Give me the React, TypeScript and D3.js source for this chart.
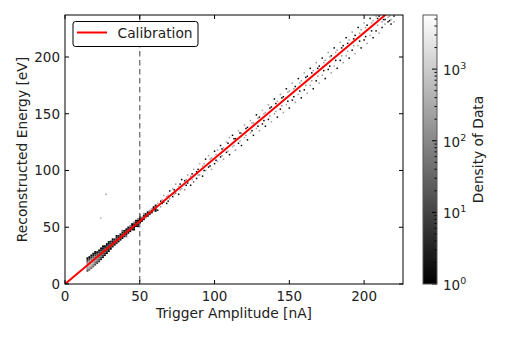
import React from 'react';
import * as d3 from 'd3';

// [trigger amplitude nA, reconstructed energy eV, count]
const clusterBins: [number, number, number][] = [
  [15.0, 11.5, 20], [15.0, 13.1, 80], [15.0, 14.7, 250], [15.0, 16.3, 400], [15.0, 17.9, 150], [15.0, 19.5, 30], [15.0, 21.1, 4], [15.0, 22.7, 1],
  [16.3, 12.5, 30], [16.3, 14.1, 150], [16.3, 15.7, 450], [16.3, 17.3, 600], [16.3, 18.9, 250], [16.3, 20.5, 50], [16.3, 22.1, 6], [16.3, 23.7, 1],
  [17.6, 14.0, 30], [17.6, 15.6, 120], [17.6, 17.2, 350], [17.6, 18.8, 500], [17.6, 20.4, 200], [17.6, 22.0, 40], [17.6, 23.6, 5], [17.6, 25.2, 1],
  [18.9, 15.5, 20], [18.9, 17.1, 80], [18.9, 18.7, 250], [18.9, 20.3, 300], [18.9, 21.9, 120], [18.9, 23.5, 25], [18.9, 25.1, 3], [18.9, 26.7, 1],
  [20.2, 17.0, 12], [20.2, 18.6, 50], [20.2, 20.2, 150], [20.2, 21.8, 200], [20.2, 23.4, 80], [20.2, 25.0, 15], [20.2, 26.6, 2], [20.2, 28.2, 1],
  [21.5, 18.5, 8], [21.5, 20.1, 30], [21.5, 21.7, 80], [21.5, 23.3, 120], [21.5, 24.9, 50], [21.5, 26.5, 10], [21.5, 28.1, 2],
  [22.8, 20.0, 5], [22.8, 21.6, 15], [22.8, 23.2, 50], [22.8, 24.8, 70], [22.8, 26.4, 30], [22.8, 28.0, 6], [22.8, 29.6, 1],
  [24.1, 21.8, 3], [24.1, 23.4, 10], [24.1, 25.0, 30], [24.1, 26.6, 40], [24.1, 28.2, 18], [24.1, 29.8, 4], [24.1, 31.4, 1],
  [25.4, 23.6, 2], [25.4, 25.2, 6], [25.4, 26.8, 18], [25.4, 28.4, 25], [25.4, 30.0, 10], [25.4, 31.6, 3], [25.4, 33.2, 1],
  [26.7, 25.4, 2], [26.7, 27.0, 5], [26.7, 28.6, 12], [26.7, 30.2, 15], [26.7, 31.8, 6], [26.7, 33.4, 2],
  [28.0, 27.2, 1], [28.0, 28.8, 4], [28.0, 30.4, 9], [28.0, 32.0, 10], [28.0, 33.6, 4], [28.0, 35.2, 1],
  [29.3, 29.0, 1], [29.3, 30.6, 3], [29.3, 32.2, 7], [29.3, 33.8, 8], [29.3, 35.4, 3], [29.3, 37.0, 1],
];

const bandBins: [number, number, number][] = [
  [30.6, 31.0, 1], [30.6, 32.6, 4], [30.6, 34.2, 7], [30.6, 35.8, 5], [30.6, 37.4, 2],
  [31.9, 33.0, 2], [31.9, 34.6, 6], [31.9, 36.2, 7], [31.9, 37.8, 3], [31.9, 39.4, 1],
  [33.2, 34.5, 2], [33.2, 36.1, 5], [33.2, 37.7, 6], [33.2, 39.3, 3],
  [34.5, 36.0, 2], [34.5, 37.6, 4], [34.5, 39.2, 6], [34.5, 40.8, 2], [34.5, 42.4, 1],
  [35.8, 37.5, 1], [35.8, 39.1, 4], [35.8, 40.7, 5], [35.8, 42.3, 2],
  [37.1, 39.0, 2], [37.1, 40.6, 4], [37.1, 42.2, 4], [37.1, 43.8, 1],
  [38.4, 40.5, 1], [38.4, 42.1, 3], [38.4, 43.7, 4], [38.4, 45.3, 2], [38.4, 46.9, 30],
  [39.7, 42.0, 2], [39.7, 43.6, 3], [39.7, 45.2, 3], [39.7, 46.8, 1],
  [41.0, 43.5, 1], [41.0, 45.1, 3], [41.0, 46.7, 3], [41.0, 48.3, 2], [41.0, 41.9, 40],
  [42.3, 45.0, 2], [42.3, 46.6, 3], [42.3, 48.2, 2], [42.3, 49.8, 1],
  [43.6, 46.5, 1], [43.6, 48.1, 2], [43.6, 49.7, 3], [43.6, 51.3, 60],
  [44.9, 48.0, 2], [44.9, 49.6, 2], [44.9, 51.2, 2], [44.9, 52.8, 1],
  [46.2, 49.5, 1], [46.2, 51.1, 2], [46.2, 52.7, 2], [46.2, 54.3, 80], [46.2, 47.9, 1],
  [47.5, 51.0, 1], [47.5, 52.6, 2], [47.5, 54.2, 2], [47.5, 55.8, 1],
  [48.8, 52.5, 2], [48.8, 54.1, 2], [48.8, 55.7, 1], [48.8, 57.3, 100], [48.8, 50.9, 1],
  [50.1, 54.0, 1], [50.1, 55.6, 2], [50.1, 57.2, 1], [50.1, 58.8, 1], [50.1, 61.0, 150],
  [51.4, 55.5, 1], [51.4, 57.1, 2], [51.4, 58.7, 150],
  [52.7, 57.0, 1], [52.7, 58.6, 1], [52.7, 60.2, 2], [52.7, 62.0, 200],
  [54.0, 58.5, 200], [54.0, 60.1, 1], [54.0, 61.7, 1],
  [55.3, 60.0, 1], [55.3, 61.6, 300], [55.3, 63.2, 1],
  [56.6, 61.5, 2], [56.6, 63.1, 1], [56.6, 64.7, 200],
  [58.0, 63.0, 1], [58.0, 64.6, 1], [58.0, 66.2, 300],
  [59.3, 64.5, 300], [59.3, 66.1, 1], [59.3, 67.7, 1],
  [60.6, 66.0, 1], [60.6, 67.6, 400], [60.6, 69.2, 1], [60.6, 64.4, 1],
];

// sparse tail, read at even amplitudes
const sparseBins: [number, number, number][] = [
  [62, 71, 150], [62, 65, 1], [64, 73, 1], [64, 68, 200], [66, 78, 300], [66, 72, 5],
  [68, 71, 1], [68, 77, 100], [70, 82, 1], [70, 75, 250], [72, 77, 1], [72, 84, 200],
  [74, 80, 40], [74, 88, 150], [76, 79, 1], [76, 86, 300], [78, 92, 1], [78, 84, 150],
  [80, 83, 100], [80, 91, 1], [82, 96, 200], [82, 89, 1], [84, 87, 1], [84, 95, 150],
  [86, 101, 250], [86, 90, 20], [88, 93, 1], [88, 99, 1], [90, 106, 300], [90, 96, 150],
  [92, 95, 1], [92, 104, 200], [94, 110, 1], [94, 100, 100], [96, 103, 1], [96, 113, 250],
  [98, 111, 150], [98, 101, 200], [100, 117, 1], [100, 106, 1], [102, 108, 300], [102, 118, 150],
  [104, 122, 1], [104, 112, 1], [106, 110, 150], [106, 120, 300], [108, 125, 200], [108, 116, 1],
  [110, 114, 1], [110, 129, 150], [112, 121, 300], [112, 131, 1], [114, 118, 100], [114, 128, 1],
  [116, 135, 250], [116, 124, 1], [118, 122, 1], [118, 133, 200], [120, 140, 150], [120, 129, 300],
  [122, 127, 1], [122, 138, 1], [124, 144, 200], [124, 133, 150], [126, 131, 1], [126, 142, 250],
  [128, 149, 1], [128, 137, 200], [130, 135, 150], [130, 147, 1], [132, 153, 300], [132, 141, 1],
  [134, 139, 1], [134, 151, 150], [136, 158, 200], [136, 145, 1], [138, 143, 250], [138, 156, 1],
  [140, 163, 1], [140, 150, 150], [142, 147, 1], [142, 161, 300], [144, 167, 150], [144, 154, 1],
  [146, 151, 200], [146, 165, 1], [148, 172, 1], [148, 158, 250], [150, 155, 1], [150, 170, 150],
  [152, 177, 200], [152, 162, 1], [154, 160, 150], [154, 174, 1], [156, 181, 1], [156, 167, 300],
  [158, 164, 1], [158, 179, 150], [160, 186, 250], [160, 171, 1], [162, 168, 200], [162, 183, 1],
  [164, 190, 1], [164, 175, 150], [166, 172, 1], [166, 188, 200], [168, 195, 150], [168, 179, 1],
  [170, 177, 250], [170, 192, 1], [172, 199, 1], [172, 184, 200], [174, 181, 1], [174, 197, 150],
  [176, 204, 200], [176, 189, 1], [178, 186, 150], [178, 201, 1], [180, 208, 1], [180, 192, 300],
  [182, 190, 1], [182, 206, 150], [184, 213, 250], [184, 197, 1], [186, 195, 200], [186, 210, 1],
  [188, 217, 1], [188, 201, 150], [190, 199, 1], [190, 215, 200], [192, 222, 150], [192, 206, 1],
  [194, 203, 250], [194, 219, 1], [196, 226, 1], [196, 210, 200], [198, 208, 1], [198, 224, 150],
  [200, 230, 200], [200, 215, 1], [202, 212, 150], [202, 228, 1], [204, 234, 1], [204, 219, 250],
  [206, 217, 1], [206, 232, 200], [208, 236, 150], [208, 223, 1], [210, 221, 200], [210, 236, 1],
  [212, 226, 1], [212, 231, 150], [214, 229, 150], [214, 233, 1], [216, 231, 1], [216, 235, 200],
  [218, 233, 150], [218, 229, 1], [220, 236, 1], [220, 231, 200],
  [27.4, 79, 200], [23.9, 58, 400],
];

// sparse tail close to the calibration line, read at odd amplitudes
const nearLineBins: [number, number, number][] = [
  [65, 74, 150], [65, 71, 1], [69, 78, 200], [69, 73, 1], [73, 83, 1], [73, 79, 150],
  [77, 83, 200], [77, 88, 1], [81, 92, 150], [81, 87, 1], [85, 97, 1], [85, 92, 200],
  [89, 96, 150], [89, 101, 1], [93, 106, 200], [93, 100, 1], [97, 104, 1], [97, 110, 150],
  [101, 114, 200], [101, 109, 1], [105, 113, 150], [105, 119, 1], [109, 124, 1], [109, 117, 200],
  [113, 122, 150], [113, 128, 1], [117, 133, 1], [117, 126, 200], [121, 131, 150], [121, 137, 1],
  [125, 142, 200], [125, 135, 1], [129, 139, 1], [129, 146, 150], [133, 150, 200], [133, 144, 1],
  [137, 148, 150], [137, 155, 1], [141, 159, 1], [141, 152, 200], [145, 157, 150], [145, 164, 1],
  [149, 169, 200], [149, 161, 1], [153, 165, 1], [153, 172, 150], [157, 177, 200], [157, 170, 1],
  [161, 175, 150], [161, 182, 1], [165, 186, 1], [165, 179, 200], [169, 183, 150], [169, 190, 1],
  [173, 195, 200], [173, 188, 1], [177, 192, 1], [177, 200, 150], [181, 204, 200], [181, 197, 1],
  [185, 201, 150], [185, 208, 1], [189, 212, 1], [189, 205, 200], [193, 210, 150], [193, 216, 1],
  [197, 221, 200], [197, 214, 1], [201, 218, 1], [201, 226, 150], [205, 230, 200], [205, 223, 1],
  [209, 228, 150], [209, 234, 1], [213, 233, 1], [213, 237, 200], [217, 236, 150], [217, 232, 1],
];

const calibration: [number, number][] = [[0, 0], [226, 250.2]];
const thresholdAmp = 50;
const xTicks = [0, 50, 100, 150, 200];
const yTicks = [0, 50, 100, 150, 200];
const cbarMajor = [1, 10, 100, 1000];

const W = 506;
const H = 338;
const L = 65, T = 15, R = 403, B = 284;
const CB_L = 423, CB_R = 437;
const FONT = 'DejaVu Sans, sans-serif';

export default function App() {
  const x = d3.scaleLinear().domain([0, 226]).range([L, R]);
  const y = d3.scaleLinear().domain([0, 237]).range([B, T]);
  const cmax = 5700;
  const cy = d3.scaleLog().domain([1, cmax]).range([B, T]);
  const gray = (c: number) => {
    const v = Math.round((Math.log(c) / Math.log(cmax)) * 255);
    return `rgb(${v},${v},${v})`;
  };
  // dense region uses coarser cells than the sparse tail
  const groups: [[number, number, number][], number, number][] = [
    [clusterBins, 1.3, 1.6],
    [bandBins, 1.3, 1.6],
    [sparseBins, 1.0, 1.3],
    [nearLineBins, 1.0, 1.3],
  ];

  const line = d3.line<[number, number]>()
    .x((d) => x(d[0]))
    .y((d) => y(d[1]));

  const minor: number[] = [];
  for (let e = 0; e < 4; e++) {
    for (let k = 2; k <= 9; k++) {
      const v = k * Math.pow(10, e);
      if (v <= cmax) minor.push(v);
    }
  }

  return (
    <svg width={W} height={H} style={{ position: 'absolute', left: 0, top: 0 }}
      fontFamily={FONT}>
      <defs>
        <clipPath id="plot">
          <rect x={L} y={T} width={R - L} height={B - T} />
        </clipPath>
        <linearGradient id="cbar" x1="0" y1="1" x2="0" y2="0">
          <stop offset="0" stopColor="#000" />
          <stop offset="1" stopColor="#fff" />
        </linearGradient>
      </defs>
      <rect width={W} height={H} fill="#fff" />

      <g clipPath="url(#plot)">
        {groups.map(([bins, bx, by], gi) => {
          const bw = x(bx) - x(0);
          const bh = y(0) - y(by);
          return (
            <g key={gi}>
              {bins.map((d, i) => (
                <rect key={i} x={x(d[0]) - bw / 2} y={y(d[1]) - bh / 2}
                  width={bw} height={bh} fill={gray(d[2])} />
              ))}
            </g>
          );
        })}
        <line x1={x(thresholdAmp)} x2={x(thresholdAmp)} y1={T} y2={B}
          stroke="#555" strokeWidth={1.1} strokeDasharray="5.5,3.5" />
        <path d={line(calibration) || ''} fill="none" stroke="#ff0000" strokeWidth={2} />
      </g>

      {/* ticks, all pointing inward */}
      {xTicks.map((t) => (
        <g key={'x' + t}>
          <line x1={x(t)} x2={x(t)} y1={B} y2={B - 4} stroke="#000" />
          <line x1={x(t)} x2={x(t)} y1={T} y2={T + 4} stroke="#000" />
          <text x={x(t)} y={301} textAnchor="middle" fontSize={13.5} fill="#222">{t}</text>
        </g>
      ))}
      {yTicks.map((t) => (
        <g key={'y' + t}>
          <line x1={L} x2={L + 4} y1={y(t)} y2={y(t)} stroke="#000" />
          <line x1={R} x2={R - 4} y1={y(t)} y2={y(t)} stroke="#000" />
          <text x={60} y={y(t)} dy="0.36em" textAnchor="end" fontSize={13.5} fill="#222">{t}</text>
        </g>
      ))}
      <rect x={L} y={T} width={R - L} height={B - T} fill="none" stroke="#000" strokeWidth={1} />

      <text x={(L + R) / 2} y={318} textAnchor="middle" fontSize={13.8} fill="#222">
        Trigger Amplitude [nA]
      </text>
      <text transform={`translate(27,${(T + B) / 2}) rotate(-90)`} textAnchor="middle"
        fontSize={13.8} fill="#222">
        Reconstructed Energy [eV]
      </text>

      {/* legend */}
      <rect x={73} y={21.5} width={125} height={25} rx={2.5} fill="#fff" stroke="#000" strokeWidth={1} />
      <line x1={77} x2={107} y1={32.5} y2={32.5} stroke="#ff0000" strokeWidth={2} />
      <text x={117.5} y={38} fontSize={13.8} fill="#222">Calibration</text>

      {/* colorbar */}
      <rect x={CB_L} y={T} width={CB_R - CB_L} height={B - T} fill="url(#cbar)" />
      {minor.map((v) => (
        <line key={'m' + v} x1={CB_R} x2={CB_R - 2.5} y1={cy(v)} y2={cy(v)} stroke="#000" />
      ))}
      {cbarMajor.map((v, i) => (
        <g key={'c' + v}>
          <line x1={CB_R} x2={CB_R - 5} y1={cy(v)} y2={cy(v)} stroke="#000" />
          <text x={443} y={cy(v)} dy="0.45em" fontSize={13.5} fill="#222">
            10<tspan dy="-6" fontSize={9.5}>{i}</tspan>
          </text>
        </g>
      ))}
      <rect x={CB_L} y={T} width={CB_R - CB_L} height={B - T} fill="none" stroke="#555" strokeWidth={1} />
      <text transform={`translate(483,${(T + B) / 2}) rotate(-90)`} textAnchor="middle"
        fontSize={13.8} fill="#222">
        Density of Data
      </text>
    </svg>
  );
}
